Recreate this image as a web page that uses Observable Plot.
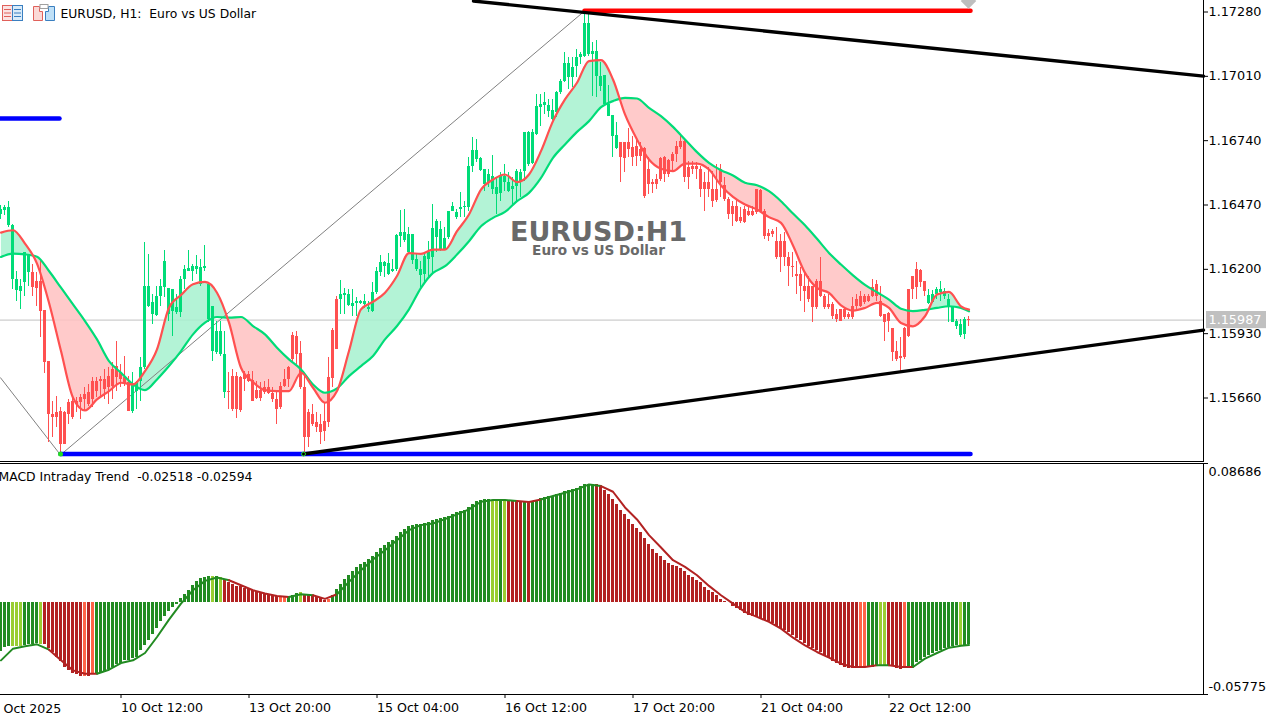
<!DOCTYPE html>
<html><head><meta charset="utf-8">
<style>
html,body{margin:0;padding:0;background:#fff;overflow:hidden}
#chart{position:relative;width:1279px;height:721px;overflow:hidden}
#chart svg{position:absolute;left:0}
#chart svg text{white-space:pre}
</style>
<script src="https://cdn.jsdelivr.net/npm/d3@7"></script>
<script src="https://cdn.jsdelivr.net/npm/@observablehq/plot@0.6"></script>
</head><body><div id="chart">
<svg style="top:0;z-index:3" width="60" height="26" viewBox="0 0 60 26">
<rect x="2.5" y="5.5" width="10" height="15" fill="#fbe3e3" stroke="#e0605a"/><rect x="12.5" y="5.5" width="10" height="15" fill="#d9ebf9" stroke="#3a7fc0"/>
<path d="M4 9.5h7M4 13h7M4 16.5h7" stroke="#e0605a"/><path d="M14 9.5h7M14 13h7M14 16.5h7" stroke="#3a7fc0"/>
<path d="M33.5 6.5h6v5h3v9h-9z" fill="#fbd9d6" stroke="#e0605a"/><path d="M45.5 20.5v-9h3v-5h6v14z" fill="#bfe0f7" stroke="#3a7fc0"/><rect x="40" y="4.5" width="8" height="4" fill="#fff" stroke="#a0a0a0"/>
</svg>
</div>
<script>
// Candle values in 1e-5 price units, bar by bar
const highs=[116466,116470,116483,116389,116193,116158,116270,116263,116221,116186,
116235,116028,115815,115647,115668,115619,115605,115654,115661,115664,
115675,115703,115717,115745,115745,115752,115780,115787,115808,115899,
115801,115836,115752,115766,115731,115829,116312,116263,116095,116130,
116158,116277,116119,116116,116095,116172,116214,116277,116221,116256,
116242,116298,116137,116046,115983,115983,115941,115766,115780,115766,
115752,115773,115773,115773,115731,115724,115731,115738,115703,115689,
115724,115780,115794,115934,115938,115899,115752,115612,115633,115598,
115591,115640,115832,115950,116084,116154,116120,116116,116116,116081,
116070,116095,116067,116144,116206,116259,116234,116266,116241,116346,
116448,116451,116374,116346,116262,116234,116269,116318,116472,116409,
116402,116374,116444,116479,116451,116521,116486,116671,116755,116745,
116671,116619,116619,116679,116584,116605,116640,116605,116584,116619,
116619,116773,116780,116787,116934,116934,116941,116913,116913,116948,
116997,117109,117088,117088,117123,117109,117284,117277,117151,117161,
117067,117015,116973,116846,116815,116734,116734,116790,116759,116752,
116731,116710,116668,116577,116598,116671,116675,116661,116689,116738,
116759,116745,116654,116654,116647,116633,116605,116626,116612,116640,
116640,116584,116500,116486,116493,116458,116465,116458,116465,116535,
116535,116451,116367,116367,116374,116346,116353,116269,116269,116234,
116206,116192,116171,116129,116157,116248,116094,116094,116059,116031,
116031,116038,116017,116080,116094,116108,116094,116094,116157,116153,
116129,116011,116018,115951,115899,115913,115955,116116,116172,116228,
116200,116151,116116,116112,116123,116147,116119,116095,116046,115990,
115990,115997,116001];
const bodyTops=[116452,116459,116459,116386,116158,116126,116270,116263,116186,116151,
116151,116028,115815,115591,115598,115605,115598,115640,115647,115647,
115661,115675,115682,115731,115731,115738,115738,115752,115780,115794,
115766,115745,115724,115717,115724,115787,116126,116126,116060,116088,
116130,116232,116119,116116,116039,116158,116200,116203,116210,116210,
116207,116210,116137,116046,115941,115941,115843,115689,115752,115752,
115745,115759,115759,115734,115693,115693,115703,115703,115678,115654,
115710,115738,115787,115924,115920,115847,115703,115598,115591,115556,
115549,115560,115745,115944,116074,116095,116098,116095,116056,116064,
116064,116064,116039,116102,116192,116227,116227,116224,116199,116343,
116353,116353,116346,116346,116241,116199,116255,116269,116371,116402,
116367,116329,116444,116465,116437,116458,116465,116630,116700,116700,
116664,116619,116598,116591,116542,116591,116591,116563,116549,116609,
116605,116773,116773,116773,116885,116892,116899,116889,116867,116941,
116990,117064,117064,117046,117088,117102,117232,117232,117116,117116,
117011,117015,116892,116846,116762,116734,116734,116734,116710,116717,
116703,116706,116619,116563,116577,116665,116668,116657,116682,116717,
116738,116738,116626,116633,116633,116619,116563,116563,116535,116535,
116619,116553,116493,116465,116465,116416,116451,116441,116441,116535,
116531,116444,116349,116360,116318,116318,116318,116251,116213,116178,
116178,116129,116129,116129,116150,116147,116087,116052,116052,116010,
116031,116031,116010,116045,116073,116087,116087,116087,116122,116136,
116066,116011,116015,115951,115857,115836,115951,116116,116169,116200,
116197,116151,116091,116095,116116,116116,116109,116074,116046,115979,
115969,115990,115990];
const bodyBottoms=[116431,116445,116382,116158,116112,116109,116144,116186,116123,116119,
116025,115808,115591,115577,115577,115465,115465,115591,115577,115633,
115640,115654,115633,115654,115689,115731,115696,115703,115710,115745,
115738,115717,115605,115605,115689,115731,115787,116046,116011,116007,
116084,116123,116011,116025,116018,116018,116158,116193,116193,116200,
116137,116203,115990,115857,115850,115843,115682,115682,115612,115612,
115609,115738,115731,115647,115658,115658,115682,115678,115654,115612,
115619,115710,115738,115822,115843,115703,115493,115493,115549,115535,
115514,115521,115556,115742,115864,116074,116091,116050,116046,116057,
116057,116053,116032,116025,116101,116185,116213,116178,116189,116199,
116339,116321,116269,116237,116199,116175,116178,116241,116248,116332,
116283,116283,116332,116444,116416,116451,116458,116458,116630,116661,
116616,116556,116563,116535,116514,116518,116563,116528,116535,116549,
116563,116612,116640,116643,116766,116878,116889,116864,116829,116857,
116941,116990,117004,117004,117053,117088,117095,117102,117102,117011,
116969,116892,116843,116759,116706,116668,116664,116703,116671,116675,
116675,116507,116556,116556,116556,116577,116598,116598,116654,116682,
116710,116584,116584,116619,116619,116535,116535,116535,116486,116489,
116563,116493,116430,116430,116402,116402,116395,116427,116427,116437,
116444,116339,116339,116346,116251,116251,116251,116213,116206,116171,
116129,116108,116073,116038,116038,116087,116038,116038,116003,115989,
115982,115996,115996,115996,116045,116045,116059,116066,116087,116087,
116003,115976,115983,115850,115822,115825,115829,115920,116116,116123,
116144,116109,116057,116060,116095,116102,116088,116046,115976,115962,
115923,115927,115987];
const lows=[116410,116424,116375,116116,116063,116031,116084,116130,116088,116046,
115913,115762,115472,115493,115535,115423,115465,115549,115570,115598,
115570,115605,115626,115619,115661,115668,115654,115633,115654,115689,
115703,115710,115605,115594,115612,115644,115780,116039,115969,116004,
116046,116081,115983,115917,116011,115997,116116,116193,116151,116179,
116130,116193,115976,115812,115843,115836,115658,115612,115605,115573,
115598,115689,115724,115647,115654,115647,115675,115675,115640,115549,
115612,115703,115703,115815,115801,115696,115423,115451,115542,115514,
115465,115479,115535,115703,115864,116011,116011,116046,116004,116004,
116053,116036,116018,116018,116094,116171,116164,116175,116185,116192,
116290,116311,116266,116220,116192,116122,116136,116164,116178,116269,
116276,116283,116325,116441,116409,116416,116416,116444,116605,116647,
116612,116528,116542,116514,116430,116486,116528,116521,116472,116486,
116500,116570,116633,116640,116763,116801,116850,116836,116825,116836,
116934,116983,116955,116962,117004,117060,117088,117095,116927,116920,
116948,116885,116843,116668,116703,116563,116605,116668,116633,116633,
116654,116497,116514,116517,116535,116570,116563,116584,116612,116647,
116703,116563,116535,116598,116577,116500,116441,116500,116458,116479,
116500,116486,116409,116381,116395,116391,116392,116423,116423,116430,
116437,116325,116318,116332,116241,116185,116213,116129,116164,116094,
116066,116017,116059,115975,116031,116080,116031,116031,115989,115975,
115982,115989,115989,115989,116031,116038,116052,116059,116080,116066,
115996,115899,115934,115815,115815,115773,115822,115913,116074,116074,
116123,116088,116053,116056,116074,116067,116074,115976,115976,115948,
115913,115906,115962];
const candleRuns=[["up",8],["down",25],["up",24],["down",28],["up",70],["down",77],["up",10],["down",1]];

// Moving averages read every third bar
const maBars=d3.range(0,241,3).concat(242);
const fastMA=[116354,116364,116308,116224,116060,115857,115661,115608,115654,115689,115724,115717,115773,115864,116039,116092,116137,116147,116102,115976,115787,115727,115693,115689,115689,115766,115703,
115640,115689,115857,116032,116064,116102,116172,116268,116265,116283,116283,116360,116430,116535,116577,116598,116566,116598,116696,116822,116913,116983,117074,117078,116997,116850,116745,
116661,116622,116612,116644,116644,116619,116552,116504,116472,116451,116419,116395,116300,116185,116122,116101,116049,116027,116038,116059,116038,115975,115961,116003,116094,116105,116045,116031];
const slowMA=[116252,116266,116263,116253,116193,116123,116053,115983,115906,115815,115766,115717,115693,115738,115794,115857,115927,115976,116000,115997,116000,115962,115927,115871,115822,115780,115717,
115682,115700,115752,115794,115836,115906,115962,116032,116122,116185,116213,116262,116318,116381,116416,116441,116486,116521,116584,116668,116724,116777,116822,116881,116906,116920,116917,
116878,116843,116798,116745,116692,116647,116616,116594,116563,116553,116528,116486,116434,116385,116328,116269,116220,116175,116135,116104,116073,116035,116025,116030,116038,116045,116038,116024];

// Overlay objects
const lastPrice=1.15987;
const priceTicks=[1.1728,1.1701,1.1674,1.1647,1.162,1.1593,1.1566];
const upperTrendBars=[118.25,300.75], upperTrendPrices=[1.17326,1.17011];
const lowerTrendBars=[75.75,300.75], lowerTrendPrices=[1.15425,1.15945];
const zigzagBars=[0,15,146], zigzagPrices=[1.15745,1.15421,1.17284];
const resistanceBars=[146,242.5], resistancePrice=1.17285;
const supportBars=[15,242.5], supportPrice=1.15425;
const oldSupportBars=[0,14.75], oldSupportPrice=1.16833;

// MACD histogram values in 1e-5 units, bar by bar
const macdHist=[-3114,-2842,-2759,-2759,-2759,-2759,-2696,-2654,-2633,-2592,
-2633,-2633,-2905,-3177,-3490,-3699,-4096,-4264,-4431,-4514,
-4619,-4619,-4619,-4514,-4535,-4473,-4368,-4222,-4055,-3887,
-3804,-3637,-3637,-3532,-3428,-3010,-2696,-2383,-2006,-1651,
-1233,-878,-564,-355,-146,209,481,752,1045,1275,
1484,1547,1630,1630,1630,1547,1421,1212,1129,1003,
961,857,794,711,648,606,543,502,439,376,
334,334,376,439,543,606,502,481,439,334,
230,125,167,439,815,1129,1442,1693,1944,2195,
2383,2508,2696,2884,3135,3386,3574,3762,3887,4138,
4389,4577,4765,4828,4891,4891,4953,4974,5100,5204,
5267,5330,5392,5518,5643,5706,5768,5957,6145,6333,
6395,6458,6458,6395,6395,6395,6395,6395,6333,6333,
6270,6270,6270,6270,6395,6521,6584,6646,6646,6772,
6834,6960,7022,7085,7148,7273,7399,7399,7399,7357,
7273,7022,6772,6458,6145,5768,5518,5204,4891,4640,
4389,4013,3637,3323,3072,2884,2633,2445,2320,2215,
2111,1944,1693,1547,1379,1212,899,752,606,439,
167,63,-42,-251,-397,-543,-711,-815,-920,-982,
-1024,-1129,-1233,-1338,-1505,-1651,-1756,-1923,-2069,-2278,
-2424,-2592,-2759,-2905,-3051,-3177,-3323,-3469,-3678,-3846,
-3950,-4055,-4160,-4160,-4160,-4096,-4096,-4055,-4055,-3950,
-3950,-3950,-3950,-4013,-4160,-4222,-4160,-4055,-4013,-3741,
-3637,-3428,-3323,-3219,-3114,-3010,-2905,-2842,-2759,-2696,
-2696,-2696,-2633];
const macdRuns=[["G",3],["L",3],["G",4],["L",1],["R",10],["T",1],["R",1],["T",1],["G",29],["L",1],["G",1],["L",1],["R",14],["T",2],["G",3],["L",1],["R",6],["T",1],["G",40],["L",2],["G",1],["L",1],["R",4],["G",1],["R",1],["G",16],["R",66],["T",2],["G",3],["L",2],["R",4],["T",1],["G",13],["L",1],["G",2]];
const macdSignal=[-3637,-2905,-2759,-2633,-2968,-3637,-4264,-4473,-4473,-4222,-3804,-3637,-3177,-2174,-1087,-84,752,1338,1547,1379,1066,752,543,397,334,502,439,209,
502,1275,2006,2675,3260,3887,4514,4828,4932,5204,5497,5810,6291,6395,6395,6333,6270,6437,6646,6855,7064,7378,7273,6918,5936,5183,4201,3428,2633,2215,1693,1024,439,-84,-606,-920,-1233,-1651,-2215,-2696,-3114,-3469,-3846,-4055,-4055,-3950,-3950,-4055,-4055,-3532,-3177,-2842,-2717,-2675];
const macdTicks=[0.08686,-0.05775];

// Time axis
const timeBars=[30,62,94,126,158,190,222];
const timeLabels=["10 Oct 12:00","13 Oct 20:00","15 Oct 04:00","16 Oct 12:00","17 Oct 20:00","21 Oct 04:00","22 Oct 12:00"];
const firstTimeLabel="Oct 2025";

const expand=runs=>runs.flatMap(([s,n])=>Array(n).fill(s));
const candleStates=expand(candleRuns), macdStates=expand(macdRuns);
const candleColor={up:"#00DC78",down:"#FF5050"};
const macdColor={G:"#228B22",L:"#9ACD32",R:"#B22222",T:"#FF6347"};
const lineColor={G:"#228B22",L:"#228B22",R:"#B22222",T:"#B22222"};
const candles=highs.map((h,i)=>({i,high:h/1e5,low:lows[i]/1e5,top:bodyTops[i]/1e5,bottom:bodyBottoms[i]/1e5,color:candleColor[candleStates[i]]}));
const ma=maBars.map((i,k)=>({i,fast:fastMA[k]/1e5,slow:slowMA[k]/1e5}));
const hist=macdHist.map((v,i)=>({i,v:v/1e5,color:macdColor[macdStates[i]]}));
const signal=maBars.map((i,k)=>({i,v:macdSignal[k]/1e5,color:lineColor[macdStates[i]]}));

const W=1279, plotRight=1203, barPx=4;
const xOpt={domain:[0,plotRight/barPx],axis:null,label:null};
const font={fontFamily:"'DejaVu Sans'",fontSize:"12.8px",background:"#fff",color:"#000",overflow:"visible"};
const seg=(xs,ys)=>xs.map((x,k)=>({x,y:ys[k]}));
const crisp={shapeRendering:"crispEdges"};

const pricePlot=Plot.plot({
 width:W,height:462,marginLeft:0,marginRight:W-plotRight,marginTop:0,marginBottom:1,style:font,
 x:xOpt,
 y:{domain:[1.1566,1.1728],range:[397.5,11.5],axis:null,label:null},
 color:{type:"identity"},
 marks:[
  Plot.ruleY([lastPrice],{stroke:"#C0C0C0"}),
  Plot.differenceY(ma,{x:"i",y1:"slow",y2:"fast",positiveFill:"#A6F1CF",negativeFill:"#FFC1C1",fillOpacity:0.85,stroke:"none",dx:0.5,curve:"monotone-x"}),
  Plot.line(seg(zigzagBars,zigzagPrices),{x:"x",y:"y",stroke:"#808080",strokeWidth:1}),
  Plot.ruleX(candles,{x:"i",y1:"low",y2:"high",stroke:"color",strokeWidth:1,...crisp}),
  Plot.ruleX(candles,{x:"i",y1:"bottom",y2:"top",stroke:"color",strokeWidth:3,...crisp}),
  Plot.line(ma,{x:"i",y:"slow",stroke:"#00DC78",strokeWidth:2.2,dx:0.5,curve:"monotone-x"}),
  Plot.line(ma,{x:"i",y:"fast",stroke:"#FF5050",strokeWidth:2.2,dx:0.5,curve:"monotone-x"}),
  Plot.line(seg(oldSupportBars,[oldSupportPrice,oldSupportPrice]),{x:"x",y:"y",stroke:"#0000FF",strokeWidth:4.5}),
  Plot.line(seg(supportBars,[supportPrice,supportPrice]),{x:"x",y:"y",stroke:"#0000FF",strokeWidth:4.5}),
  Plot.line(seg(resistanceBars,[resistancePrice,resistancePrice]),{x:"x",y:"y",stroke:"#FF0000",strokeWidth:4.5}),
  Plot.line(seg(upperTrendBars,upperTrendPrices),{x:"x",y:"y",stroke:"#000",strokeWidth:3.4}),
  Plot.line(seg(lowerTrendBars,lowerTrendPrices),{x:"x",y:"y",stroke:"#000",strokeWidth:3.4}),
  Plot.dot([[15,supportPrice]],{x:"0",y:"1",r:2.5,fill:"#22DD22"}),
  Plot.dot([[75.75,supportPrice]],{x:"0",y:"1",r:2,stroke:"#22DD22",strokeWidth:1}),
  Plot.dot([[242,1.17326]],{x:"0",y:"1",r:7,symbol:"diamond2",fill:"#BEBEBE"}),
  Plot.text(["EURUSD:H1"],{x:149.5,y:1.16356,fill:"#696969",fontFamily:"'DejaVu Sans'",fontWeight:"bold",fontSize:27,textAnchor:"middle"}),
  Plot.text(["Euro vs US Dollar"],{x:149.5,y:1.16277,fill:"#696969",fontFamily:"'DejaVu Sans'",fontWeight:"bold",fontSize:13.6,textAnchor:"middle"}),
  Plot.text(["EURUSD, H1:  Euro vs US Dollar"],{frameAnchor:"top-left",dx:60,dy:14,lineAnchor:"middle",textAnchor:"start",fill:"#000",fontSize:12.35}),
  Plot.axisY(priceTicks,{anchor:"right",tickSize:4,tickPadding:1,tickFormat:d=>d.toFixed(5),label:null}),
  Plot.rect([lastPrice],{x1:301.5,x2:316.5,y1:d=>d-0.00036,y2:d=>d+0.00036,fill:"#C0C0C0",inset:0}),
  Plot.text([lastPrice],{x:302,y:d=>d,text:d=>d.toFixed(5),textAnchor:"start",fill:"#fff"}),
  Plot.frame({anchor:"bottom"}),
  Plot.frame({anchor:"right"})
 ]
});
pricePlot.style.top="0px";

const macdPlot=Plot.plot({
 width:W,height:259,marginLeft:0,marginRight:W-plotRight,marginTop:1,marginBottom:27,style:font,
 x:xOpt,
 y:{domain:[-0.05775,0.08686],axis:null,label:null},
 color:{type:"identity"},
 marks:[
  Plot.ruleX(hist,{x:"i",y1:0,y2:"v",stroke:"color",strokeWidth:3,...crisp}),
  Plot.line(signal,{x:"i",y:"v",stroke:"color",z:null,strokeWidth:2,dx:0.5}),
  Plot.text(["MACD Intraday Trend  -0.02518 -0.02594"],{frameAnchor:"top-left",dx:-2,dy:14,lineAnchor:"middle",textAnchor:"start",fill:"#000",fontSize:12.4}),
  Plot.axisX(timeBars,{anchor:"bottom",tickSize:4,tickPadding:5,textAnchor:"start",dx:0.5,fontSize:12.6,tickFormat:d=>timeLabels[timeBars.indexOf(d)],label:null}),
  Plot.text([firstTimeLabel],{frameAnchor:"bottom-left",dx:3,dy:14,lineAnchor:"middle",textAnchor:"start",fill:"#000",fontSize:12.6}),
  Plot.axisY(macdTicks,{anchor:"right",tickSize:4,tickFormat:()=>"",label:null}),
  Plot.axisY([macdTicks[0]],{anchor:"right",tickSize:0,tickPadding:5,dy:8,tickFormat:d=>d.toFixed(5),label:null}),
  Plot.axisY([macdTicks[1]],{anchor:"right",tickSize:0,tickPadding:5,dy:-8,tickFormat:d=>d.toFixed(5),label:null}),
  Plot.frame({anchor:"top"}),
  Plot.frame({anchor:"right"}),
  Plot.frame({anchor:"bottom"})
 ]
});
macdPlot.style.top="462px";
const host=document.getElementById("chart");
host.appendChild(pricePlot);
host.appendChild(macdPlot);
</script></body></html>
